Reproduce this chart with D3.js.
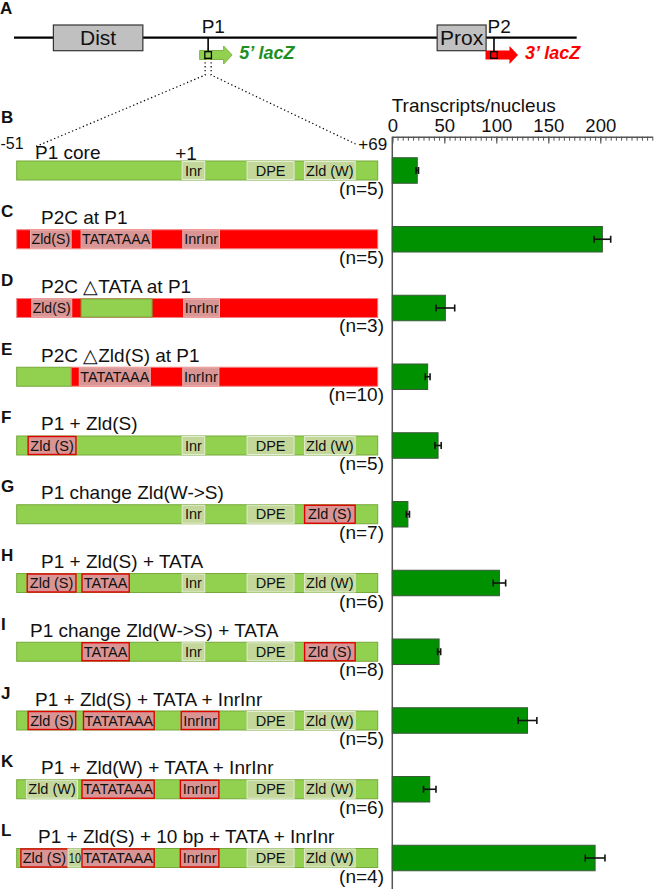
<!DOCTYPE html>
<html lang="en">
<head>
  <meta charset="UTF-8">
  <title>P1 promoter constructs</title>
  <script src="https://d3js.org/d3.v7.min.js"></script>
  <style>
    body { margin: 0; background: #fff; }
    text { font-family: "Liberation Sans", Arial, sans-serif; fill: #111; }
  </style>
</head>
<body>
<svg width="654" height="889"></svg>
<script>
  // rows of panels B-L
  var rows = ['B', 'C', 'D', 'E', 'F', 'G', 'H', 'I', 'J', 'K', 'L'];
  var titles = ['P1 core', 'P2C at P1', 'P2C \u25B3TATA at P1', 'P2C \u25B3Zld(S) at P1', 'P1 + Zld(S)',
    'P1 change Zld(W->S)', 'P1 + Zld(S) + TATA', 'P1 change Zld(W->S) + TATA',
    'P1 + Zld(S) + TATA + InrInr', 'P1 + Zld(W) + TATA + InrInr', 'P1 + Zld(S) + 10 bp + TATA + InrInr'];
  var nCounts = [5, 5, 3, 10, 5, 7, 6, 8, 5, 6, 4];
  var transcripts = [24, 202, 51, 34, 44, 15, 103, 45, 130, 36, 195];
  var errors = [1.2, 8, 9, 2.3, 3, 1.5, 6, 1.5, 9, 6, 9.5];
  var axisTicks = [0, 50, 100, 150, 200];

  // promoter backbone segments, bp from -51 to +69 (g = P1 sequence, r = P2 sequence)
  var backbones = [
    [['g', -51, 69]], [['r', -51, 69]], [['r', -51, 69]], [['g', -51, -32.9], ['r', -32.9, 69]],
    [['g', -51, 69]], [['g', -51, 69]], [['g', -51, 69]], [['g', -51, 69]],
    [['g', -51, 69]], [['g', -51, 69]], [['g', -51, 69]]
  ];
  // motifs: label, start bp, end bp, kind (w = native, s = added, p = P2 motif, g = P1 sequence)
  var motifs = [
    [['Inr', 4, 11.5, 'w'], ['DPE', 25.6, 41.2, 'w'], ['Zld (W)', 44.7, 61.5, 'w']],
    [['Zld(S)', -46.4, -32.9, 'p'], ['TATATAAA', -29.6, -6.3, 'p'], ['InrInr', 4.2, 16.4, 'p']],
    [['Zld(S)', -46, -32.7, 'p'], ['', -29.6, -6, 'g'], ['InrInr', 4.5, 16.4, 'p']],
    [['TATATAAA', -30.2, -6.6, 'p'], ['InrInr', 4.2, 16.2, 'p']],
    [['Zld (S)', -47.2, -31.3, 's'], ['Inr', 4, 11.5, 'w'], ['DPE', 25.6, 41.2, 'w'], ['Zld (W)', 44.7, 61.5, 'w']],
    [['Inr', 4, 11.5, 'w'], ['DPE', 25.6, 41.2, 'w'], ['Zld (S)', 44.7, 61.5, 's']],
    [['Zld (S)', -47.5, -31.3, 's'], ['TATAA', -29.3, -13.6, 's'], ['Inr', 4, 11.5, 'w'], ['DPE', 25.6, 41.2, 'w'], ['Zld (W)', 44.7, 61.5, 'w']],
    [['TATAA', -29.3, -13.6, 's'], ['Inr', 4, 11.5, 'w'], ['DPE', 25.6, 41.2, 'w'], ['Zld (S)', 44.7, 61.5, 's']],
    [['Zld (S)', -47.2, -31.4, 's'], ['TATATAAA', -28.8, -5.3, 's'], ['InrInr', 3.7, 16.2, 's'], ['DPE', 25.6, 41.2, 'w'], ['Zld (W)', 44.7, 61.5, 'w']],
    [['Zld (W)', -47.7, -30.8, 'w'], ['TATATAAA', -29.3, -5.3, 's'], ['InrInr', 3.4, 16.2, 's'], ['DPE', 25.6, 41.2, 'w'], ['Zld (W)', 44.7, 61.5, 'w']],
    [['Zld (S)', -49.6, -34, 's'], ['10', -34, -29.3, 'w'], ['TATATAAA', -29.3, -5.3, 's'], ['InrInr', 3.4, 16.2, 's'], ['DPE', 25.6, 41.2, 'w'], ['Zld (W)', 44.7, 61.5, 'w']]
  ];

  // panel A: locus features on a 0-100 map
  var features = [['Dist', 7.0, 22.9], ['Prox', 75.2, 83.9]];
  var promoters = [['P1', 34.5, '5\u2019 lacZ', '#1f8f1f', '#92d050'], ['P2', 85.3, '3\u2019 lacZ', '#ff0000', '#ff0000']];

  var svg = d3.select('svg');
  var font = '"Liberation Sans", Arial, sans-serif';

  var locus = d3.scaleLinear().domain([0, 100]).range([14, 576.7]);
  var bp = d3.scaleLinear().domain([-51, 69]).range([16.7, 377.7]);
  var x = d3.scaleLinear().domain([0, 250]).range([392.3, 652.3]);
  var y = d3.scaleBand().domain(rows).range([114.5, 914]).paddingInner(0.629).paddingOuter(0.629);
  var cy = function (r) { return y(r) + y.bandwidth() / 2; };
  var boxH = 19;

  var fills = {g: '#92d050', r: '#ff0000', w: '#c4d79b', s: '#d99594', p: '#d99594'};
  var strokes = {g: '#76a83a', r: '#f08080', w: '#e4ecd2', s: '#e00000', p: '#e8b4b2'};

  // ---- panel A ----
  var lineY = 37.7;
  svg.append('line').attr('x1', locus(0)).attr('x2', locus(100))
    .attr('y1', lineY).attr('y2', lineY).attr('stroke', '#000').attr('stroke-width', 2.2);

  features.forEach(function (f) {
    svg.append('rect').attr('x', locus(f[1])).attr('y', 25)
      .attr('width', locus(f[2]) - locus(f[1])).attr('height', 25.7)
      .attr('fill', '#c0c0c0').attr('stroke', '#333').attr('stroke-width', 1.2);
    svg.append('text').attr('x', (locus(f[1]) + locus(f[2])) / 2).attr('y', 45)
      .attr('text-anchor', 'middle').attr('font-size', 21).text(f[0]);
  });

  promoters.forEach(function (p) {
    var px = locus(p[1]);
    svg.append('path')
      .attr('d', 'M' + (px - 8.5) + ',50.5H' + (px + 15.5) + 'V46L' + (px + 24) + ',55L' + (px + 15.5) + ',64V59.5H' + (px - 8.5) + 'Z')
      .attr('fill', p[4]).attr('stroke', p[0] === 'P1' ? '#7fb347' : 'none').attr('stroke-width', 1);
    svg.append('line').attr('x1', px).attr('x2', px).attr('y1', lineY).attr('y2', 51.7)
      .attr('stroke', '#000').attr('stroke-width', 1.6);
    svg.append('rect').attr('x', px - 3.3).attr('y', 51.7).attr('width', 6.6).attr('height', 6.6)
      .attr('fill', 'none').attr('stroke', '#000').attr('stroke-width', 1.3);
    svg.append('text').attr('x', px - 6.5).attr('y', 33).attr('font-size', 19).text(p[0]);
    svg.append('text').attr('x', px + 31).attr('y', 58.5).attr('font-size', 18)
      .attr('font-weight', 'bold').attr('font-style', 'italic')
      .style('fill', p[3]).text(p[2]);
  });

  // zoom lines from P1 to the core diagram
  var p1x = locus(promoters[0][1]);
  var dotted = function (pts) {
    svg.append('path').attr('d', d3.line()(pts)).attr('fill', 'none')
      .attr('stroke', '#000').attr('stroke-width', 1.2).attr('stroke-dasharray', '1.3,2.6');
  };
  dotted([[p1x - 3, 58.3], [p1x - 3, 75], [bp(-51) + 18, 147]]);
  dotted([[p1x + 3, 58.3], [p1x + 3, 75], [bp(69) - 20, 145]]);

  // ---- panel letters ----
  svg.append('text').attr('x', 0).attr('y', 13.5).attr('font-size', 17).attr('font-weight', 'bold').text('A');
  rows.forEach(function (r) {
    svg.append('text').attr('x', 1).attr('y', r === 'B' ? 123 : cy(r) - 22)
      .attr('font-size', 17).attr('font-weight', 'bold').text(r);
  });

  // B header labels
  svg.append('text').attr('x', 0.5).attr('y', 149).attr('font-size', 16).text('-51');
  svg.append('text').attr('x', bp(69) - 5).attr('y', 150).attr('text-anchor', 'middle').attr('font-size', 17).text('+69');
  svg.append('text').attr('x', bp(1) + 2).attr('y', 159.5).attr('font-size', 19).text('+1');

  // ---- constructs ----
  var titleX = {B: 35, I: 30, J: 35, L: 38};
  rows.forEach(function (r, i) {
    var g = svg.append('g');
    var top = cy(r) - boxH / 2;

    g.selectAll('rect.bb').data(backbones[i]).join('rect')
      .attr('class', 'bb')
      .attr('x', function (d) { return bp(d[1]); })
      .attr('width', function (d) { return bp(d[2]) - bp(d[1]); })
      .attr('y', top).attr('height', boxH)
      .attr('fill', function (d) { return fills[d[0]]; })
      .attr('stroke', function (d) { return strokes[d[0]]; })
      .attr('stroke-width', 1);

    g.selectAll('rect.motif').data(motifs[i]).join('rect')
      .attr('class', 'motif')
      .attr('x', function (d) { return bp(d[1]); })
      .attr('width', function (d) { return bp(d[2]) - bp(d[1]); })
      .attr('y', top + 0.5).attr('height', boxH - 1)
      .attr('fill', function (d) { return fills[d[3]]; })
      .attr('stroke', function (d) { return strokes[d[3]]; })
      .attr('stroke-width', function (d) { return d[3] === 's' ? 1.4 : 1; });

    g.selectAll('text.motif').data(motifs[i].filter(function (d) { return d[0]; })).join('text')
      .attr('class', 'motif')
      .attr('x', function (d) { return (bp(d[1]) + bp(d[2])) / 2; })
      .attr('y', cy(r) + 5.2)
      .attr('text-anchor', 'middle').attr('font-size', 14.5)
      .text(function (d) { return d[0]; })
      .each(function (d) {
        var w = bp(d[2]) - bp(d[1]) - 2;
        if (this.getComputedTextLength() > w) {
          d3.select(this).attr('textLength', w).attr('lengthAdjust', 'spacingAndGlyphs');
        }
      });

    svg.append('text').attr('x', titleX[r] || 41)
      .attr('y', r === 'B' ? cy(r) - 11.5 : cy(r) - 15)
      .attr('font-size', 19).text(titles[i]);

    svg.append('text').attr('x', 384).attr('y', cy(r) + 24.5)
      .attr('text-anchor', 'end').attr('font-size', 19)
      .text('(n=' + nCounts[i] + ')');
  });

  // ---- bar chart ----
  var axisY = 136.7;
  var minor = svg.append('g').attr('transform', 'translate(0,' + axisY + ')')
    .call(d3.axisTop(x).tickValues(d3.range(0, 251, 5)).tickSizeInner(-4).tickSizeOuter(0).tickFormat(''));
  minor.selectAll('line').attr('stroke', '#555');
  minor.select('.domain').attr('stroke', '#555').attr('stroke-width', 1.5);

  var major = svg.append('g').attr('transform', 'translate(0,' + axisY + ')')
    .call(d3.axisTop(x).tickValues(axisTicks).tickSizeInner(-6.7).tickSizeOuter(0).tickPadding(5));
  major.select('.domain').remove();
  major.selectAll('line').attr('stroke', '#555').attr('stroke-width', 1.2);
  major.selectAll('text').attr('font-size', 18.5).attr('font-family', font).style('fill', '#111');

  svg.append('text').attr('x', 391.7).attr('y', 112).attr('font-size', 19).text('Transcripts/nucleus');

  svg.append('line').attr('x1', x(0)).attr('x2', x(0)).attr('y1', axisY).attr('y2', 889)
    .attr('stroke', '#555').attr('stroke-width', 1.5);

  svg.append('g').selectAll('rect').data(rows).join('rect')
    .attr('x', x(0))
    .attr('y', function (r) { return y(r); })
    .attr('width', function (r, i) { return x(transcripts[i]) - x(0); })
    .attr('height', y.bandwidth())
    .attr('fill', '#009100').attr('stroke', '#3a5a3a').attr('stroke-width', 1);

  var err = svg.append('g').attr('stroke', '#111').attr('stroke-width', 1.6);
  rows.forEach(function (r, i) {
    var lo = x(transcripts[i] - errors[i]), hi = x(transcripts[i] + errors[i]), c = cy(r);
    err.append('line').attr('x1', lo).attr('x2', hi).attr('y1', c).attr('y2', c);
    err.append('line').attr('x1', lo).attr('x2', lo).attr('y1', c - 3.5).attr('y2', c + 3.5);
    err.append('line').attr('x1', hi).attr('x2', hi).attr('y1', c - 3.5).attr('y2', c + 3.5);
  });
</script>
</body>
</html>
